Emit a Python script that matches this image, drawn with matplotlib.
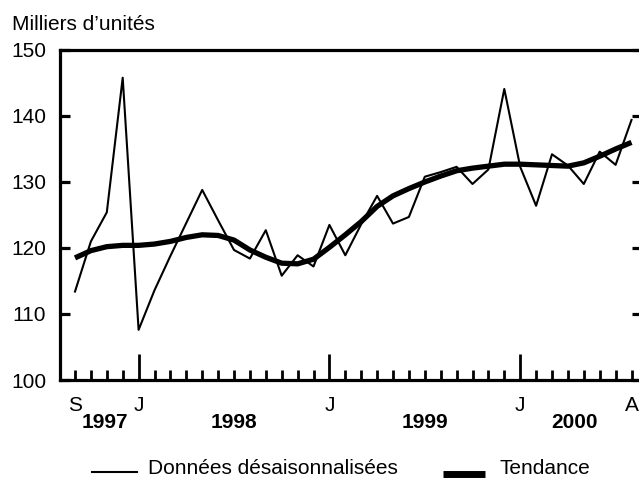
import matplotlib
matplotlib.use('Agg')
import matplotlib.pyplot as plt
from matplotlib.lines import Line2D
from matplotlib.ticker import FixedLocator

plt.rcParams['font.family'] = ['Liberation Sans', 'DejaVu Sans']

# Monthly data, September 1997 to August 2000
raw = [113.4, 121.0, 125.4, 145.8, 107.6, 113.6, 118.8, 123.8, 128.8, 124.2,
       119.7, 118.4, 122.7, 115.8, 118.9, 117.2, 123.5, 118.9, 123.6, 127.9,
       123.7, 124.7, 130.8, 131.5, 132.3, 129.7, 131.9, 144.1, 132.3, 126.4,
       134.2, 132.5, 129.7, 134.6, 132.6, 139.4]
trend = [118.5, 119.6, 120.2, 120.4, 120.4, 120.6, 121.0, 121.6, 122.0, 121.9,
         121.2, 119.7, 118.6, 117.7, 117.6, 118.3, 120.1, 122.0, 124.0, 126.3,
         127.9, 129.0, 130.0, 130.9, 131.7, 132.1, 132.4, 132.7, 132.7, 132.6,
         132.5, 132.4, 132.9, 133.9, 135.0, 136.0]
month_label_idx = [0, 4, 16, 28, 35]
month_label_txt = ['S', 'J', 'J', 'J', 'A']
year_txt = ['1997', '1998', '1999', '2000']
year_pos = [1.9, 10.0, 22.0, 31.4]
yticks = [100, 110, 120, 130, 140, 150]

W, H = 639, 479
FS = 15
fig = plt.figure(figsize=(W / 100, H / 100), dpi=100)
ax = fig.add_axes([60 / W, 99 / H, 582 / W, 330 / H])

x = list(range(len(raw)))
ax.plot(x, trend, color='black', lw=3.8, solid_capstyle='butt', zorder=2)
ax.plot(x, raw, color='black', lw=1.5, zorder=3)

pxm = 15.9
ax.set_xlim((60 - 75) / pxm, (642 - 75) / pxm)
ax.set_ylim(100, 150)

for s in ['left', 'bottom', 'top']:
    ax.spines[s].set_linewidth(2.3)
ax.spines['right'].set_visible(False)

ax.set_yticks(yticks)
ax.set_yticklabels([str(v) for v in yticks], fontsize=FS)
ax.tick_params(axis='y', which='major', direction='in', length=7, width=2.3,
               left=True, right=True, labelleft=True, pad=10)

ax.xaxis.set_major_locator(FixedLocator([4, 16, 28]))
ax.xaxis.set_minor_locator(FixedLocator(x))
ax.tick_params(axis='x', which='major', direction='in', length=18.5, width=2.0,
               bottom=True, top=False, labelbottom=False)
ax.tick_params(axis='x', which='minor', direction='in', length=7.5, width=2.0,
               bottom=True, top=False)

trans = ax.get_xaxis_transform()
for i, t in zip(month_label_idx, month_label_txt):
    ax.text(i, -0.077, t, transform=trans, ha='center', va='center',
            fontsize=FS)
for p, t in zip(year_pos, year_txt):
    ax.text(p, -0.128, t, transform=trans, ha='center', va='center',
            fontsize=FS, fontweight='bold')

fig.text(12 / W, 1 - 30 / H, "Milliers d\u2019unités", fontsize=FS,
         ha='left', va='baseline')

# Legend
fig.add_artist(Line2D([92 / W, 137 / W], [1 - 472 / H, 1 - 472 / H],
                      color='black', lw=1.5, transform=fig.transFigure))
fig.text(148 / W, 1 - 468.5 / H, 'Données désaisonnalisées', fontsize=FS,
         ha='left', va='center')
fig.add_artist(Line2D([443 / W, 485 / W], [1 - 473.5 / H, 1 - 473.5 / H],
                      color='black', lw=5, solid_capstyle='butt',
                      transform=fig.transFigure))
fig.text(500 / W, 1 - 468.5 / H, 'Tendance', fontsize=FS,
         ha='left', va='center')

fig.savefig('out.png', dpi=100)
